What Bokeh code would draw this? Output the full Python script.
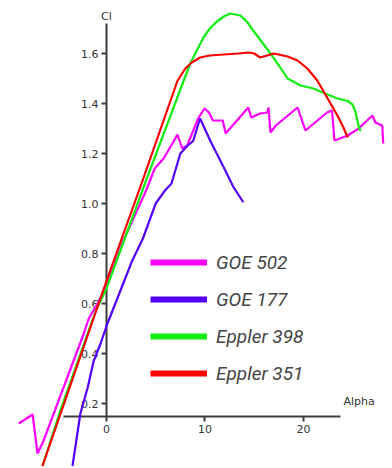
from bokeh.plotting import figure
from bokeh.models import (Range1d, FixedTicker, PrintfTickFormatter, Legend,
                          LegendItem, Label)
from bokeh.embed import file_html
from bokeh.resources import INLINE

# ---- data ----
goe502_alpha = [-8.9, -7.5, -7.0, -6.4, -3.35, -2.3, -1.8, -0.9, 0.0, 1.7, 4.0, 4.9,
                5.8, 6.7, 7.2, 7.7, 8.2, 9.3, 9.95, 10.4, 10.8, 11.8, 12.1, 14.4,
                14.7, 15.6, 16.35, 16.45, 16.65, 17.2, 19.4, 20.2, 22.4, 22.9, 23.15,
                24.5, 25.6, 27.0, 27.3, 28.0, 28.1]
goe502_cl = [0.12, 0.156, 0.0, 0.05, 0.37, 0.48, 0.54, 0.60, 0.67, 0.85, 1.05, 1.14,
             1.18, 1.24, 1.276, 1.22, 1.232, 1.34, 1.38, 1.364, 1.332, 1.332, 1.28,
             1.384, 1.344, 1.36, 1.364, 1.384, 1.284, 1.312, 1.384, 1.292, 1.364,
             1.372, 1.252, 1.272, 1.30, 1.352, 1.324, 1.312, 1.24]

goe177_alpha = [-3.45, -2.65, -1.9, -1.3, -0.6, 0.1, 2.6, 3.7, 5.0, 5.9, 6.6, 7.5,
                8.2, 8.8, 9.5, 10.55, 11.9, 12.9, 13.9]
goe177_cl = [-0.05, 0.16, 0.265, 0.37, 0.44, 0.52, 0.77, 0.86, 1.0, 1.05, 1.08, 1.2,
             1.23, 1.25, 1.34, 1.25, 1.145, 1.065, 1.005]

e398_alpha = [-6.5, -4.7, -2.9, -1.1, 0.0, 4.0, 8.5, 9.85, 10.5, 11.1, 11.9, 12.6,
              13.6, 14.3, 14.9, 15.8, 16.65, 17.5, 18.4, 19.7, 21.0, 22.2, 23.45, 24.5,
              25.0, 25.3, 25.6, 25.8]
e398_cl = [-0.05, 0.17, 0.37, 0.57, 0.66, 1.09, 1.56, 1.664, 1.70, 1.724, 1.748, 1.76,
           1.752, 1.725, 1.692, 1.645, 1.60, 1.552, 1.50, 1.472, 1.46, 1.44, 1.42, 1.41,
           1.395, 1.364, 1.31, 1.29]

e351_alpha = [-6.5, 0.0, 3.65, 7.2, 8.0, 8.7, 9.5, 10.5, 11.9, 13.4, 14.4, 15.0, 15.6,
              16.3, 17.0, 18.4, 19.4, 20.4, 21.4, 22.4, 23.45, 24.06, 24.5]
e351_cl = [-0.05, 0.69, 1.09, 1.49, 1.54, 1.565, 1.584, 1.592, 1.596, 1.60, 1.604, 1.60,
           1.584, 1.592, 1.60, 1.588, 1.572, 1.54, 1.492, 1.424, 1.352, 1.304, 1.264]

series_names = ["GOE 502", "GOE 177", "Eppler 398", "Eppler 351"]
series_colors = ["#ff00ff", "#5500ff", "#11ee11", "#ff0000"]

x_ticks = [0, 10, 20]
y_ticks = [0.2, 0.4, 0.6, 0.8, 1.0, 1.2, 1.4, 1.6]

x_axis_bounds = (-4.37, 23.76)
y_axis_bounds = (0.148, 1.72)

# ---- figure ----
p = figure(width=392, height=468, output_backend="svg", toolbar_location=None,
           x_range=Range1d(-10.76, 29.04), y_range=Range1d(-0.06, 1.812),
           min_border=0, outline_line_color=None)
p.xgrid.visible = False
p.ygrid.visible = False

data = [(goe502_alpha, goe502_cl), (goe177_alpha, goe177_cl),
        (e398_alpha, e398_cl), (e351_alpha, e351_cl)]
for (xs, ys), c in zip(data, series_colors):
    p.line(xs, ys, line_color=c, line_width=2.2)

# axes crossing inside the frame
axis_color = "#3c3c3c"
for ax in (p.xaxis[0], p.yaxis[0]):
    ax.axis_line_color = axis_color
    ax.axis_line_width = 2
    ax.major_tick_line_color = axis_color
    ax.major_tick_line_width = 2
    ax.major_tick_in = 0
    ax.major_tick_out = 5
    ax.minor_tick_line_color = None
    ax.major_label_text_font = "DejaVu Sans"
    ax.major_label_text_font_size = "11px"
    ax.major_label_text_color = "#333333"
    ax.level = "underlay"

p.xaxis[0].ticker = FixedTicker(ticks=x_ticks)
p.xaxis[0].bounds = x_axis_bounds
p.xaxis[0].fixed_location = y_axis_bounds[0]
p.xaxis[0].major_label_standoff = 3

p.yaxis[0].ticker = FixedTicker(ticks=y_ticks)
p.yaxis[0].formatter = PrintfTickFormatter(format="%.1f")
p.yaxis[0].bounds = y_axis_bounds
p.yaxis[0].fixed_location = 0
p.yaxis[0].major_label_standoff = 3

# axis titles at axis ends
p.add_layout(Label(x=0, y=y_axis_bounds[1], text="Cl", text_align="center",
                   text_baseline="bottom", y_offset=1, text_font="DejaVu Sans",
                   text_font_size="11px", text_color="#333333"))
p.add_layout(Label(x=x_axis_bounds[1], y=y_axis_bounds[0], text="Alpha",
                   text_align="left", text_baseline="bottom", x_offset=3,
                   y_offset=9, text_font="DejaVu Sans", text_font_size="11px",
                   text_color="#333333"))

# legend with thick sample lines
nan = float("nan")
items = []
for name, c in zip(series_names, series_colors):
    r = p.line([nan], [nan], line_color=c, line_width=6)
    items.append(LegendItem(label=name, renderers=[r]))
legend = Legend(items=items, location=(150, 83), orientation="vertical",
                glyph_width=57, glyph_height=24, label_height=24, spacing=13,
                padding=0, margin=0, border_line_color=None,
                background_fill_alpha=0, label_standoff=9,
                label_text_font="Roboto",
                label_text_font_style="italic", label_text_font_size="19px",
                label_text_color="#444444")
p.add_layout(legend)

open("out.html", "w").write(file_html(p, INLINE))
